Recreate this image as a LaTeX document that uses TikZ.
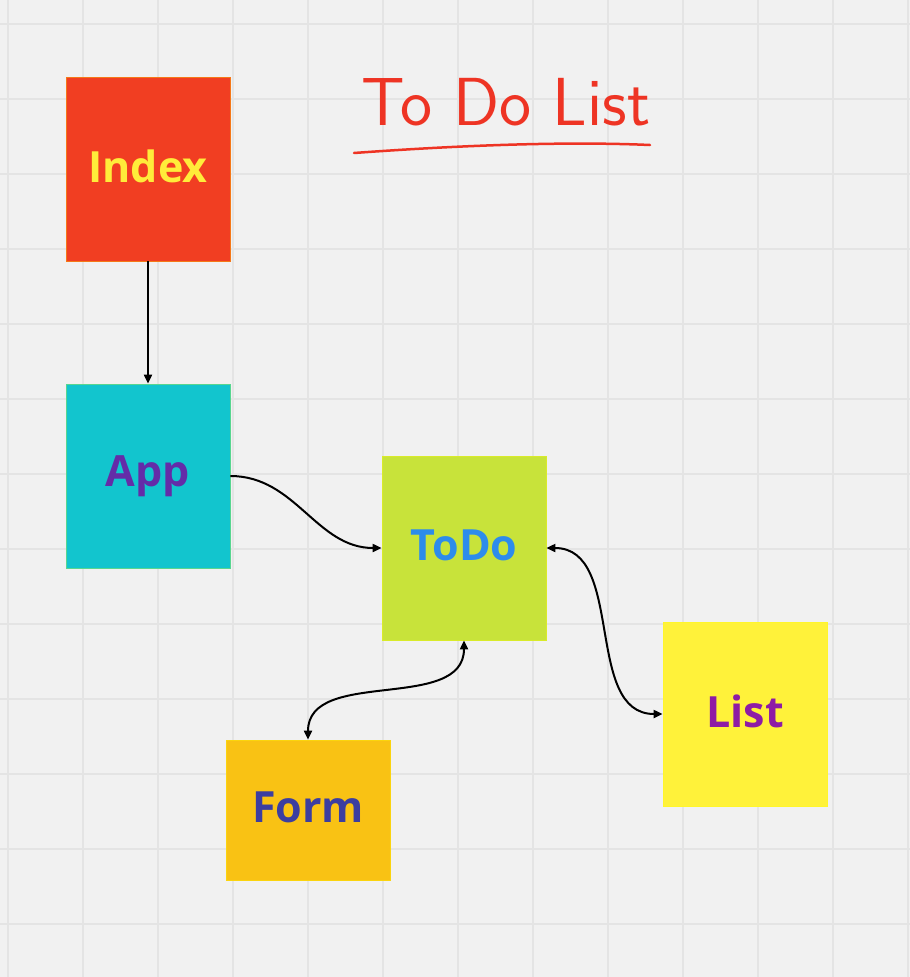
\documentclass[tikz,border=0pt]{standalone}
\usepackage{fontspec}
\setmainfont{Open Sans}
\usetikzlibrary{arrows.meta}
\definecolor{bg}{RGB}{241,241,241}
\definecolor{gridc}{RGB}{228,228,228}
\definecolor{indexfill}{RGB}{241,62,34}
\definecolor{indextext}{RGB}{255,236,58}
\definecolor{appfill}{RGB}{18,197,206}
\definecolor{apptext}{RGB}{100,44,168}
\definecolor{todofill}{RGB}{200,227,58}
\definecolor{todotext}{RGB}{45,140,235}
\definecolor{listfill}{RGB}{255,242,58}
\definecolor{listtext}{RGB}{142,27,165}
\definecolor{formfill}{RGB}{249,194,20}
\definecolor{formtext}{RGB}{60,62,160}
\definecolor{titlered}{RGB}{238,52,36}
\begin{document}
\begin{tikzpicture}[x=1pt,y=-1pt,
  card/.style={draw=#1!70!yellow, line width=0.8pt, fill=#1, minimum width=164pt, minimum height=184pt, inner sep=0pt,
    font=\fontsize{43}{50}\selectfont\bfseries},
  link/.style={line width=2pt, black}
]
\useasboundingbox (0,0) rectangle (910,977);
\fill[bg] (0,0) rectangle (910,977);
% grid
\foreach \i in {0,...,12} { \draw[gridc, line width=1.3pt] ({8+75*\i},0) -- ({8+75*\i},977); }
\foreach \j in {0,...,12} { \draw[gridc, line width=1.3pt] (0,{24+75*\j}) -- (910,{24+75*\j}); }
% title
\node[text=titlered, font=\sffamily\fontsize{68}{74}\selectfont, anchor=base] (title) at (506,125) {To Do List};
\coordinate (ulA) at (354,153);
\coordinate (ulB) at (650,145);
\draw[titlered, line width=2.5pt, line cap=round] (ulA) .. controls (450,146) and (560,141) .. (ulB);
% nodes
\node[card=indexfill, text=indextext] (index) at (148,169) {\raisebox{5pt}{Index}};
\node[card=appfill, text=apptext] (app) at (148,476) {\raisebox{5pt}{App}};
\node[card=todofill, text=todotext] (todo) at (464,548) {\raisebox{5pt}{ToDo}};
\node[card=listfill, text=listtext] (list) at (745,714) {\raisebox{5pt}{List}};
\node[card=formfill, text=formtext, minimum height=140pt] (form) at (308,810) {\raisebox{5pt}{Form}};
% connectors
\draw[link, -{Triangle[length=9pt,width=8pt]}] (index.south) -- (app.north);
\draw[link, -{Triangle[length=9pt,width=8pt]}] (app.east) to[out=0,in=180] (todo.west);
\draw[link, {Triangle[length=9pt,width=8pt]}-{Triangle[length=9pt,width=8pt]}] (todo.south) to[out=-90,in=90] (form.north);
\draw[link, {Triangle[length=9pt,width=8pt]}-{Triangle[length=9pt,width=8pt]}] (todo.east) to[out=0,in=180] (list.west);
\end{tikzpicture}
\end{document}
